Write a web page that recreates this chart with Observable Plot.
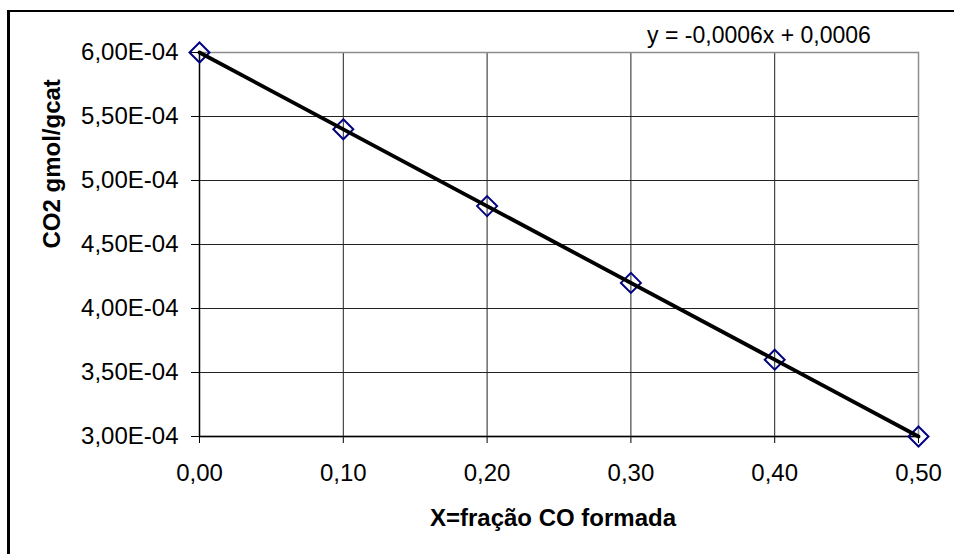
<!DOCTYPE html>
<html>
<head>
<meta charset="utf-8">
<script src="https://cdn.jsdelivr.net/npm/d3@7"></script>
<script src="https://cdn.jsdelivr.net/npm/@observablehq/plot@0.6"></script>
<style>
  html, body { margin: 0; padding: 0; background: #fff; }
  #wrap { position: relative; width: 954px; height: 554px; overflow: hidden; background: #fff; }
  #border { position: absolute; left: 7px; top: 10px; width: 980px; height: 600px;
            border-left: 3px solid #000; border-top: 2px solid #000; box-sizing: border-box; }
  #chart { position: absolute; left: 0; top: 0; }
  #chart svg { font-family: "Liberation Sans", Arial, sans-serif; }
</style>
</head>
<body>
<div id="wrap"><div id="border"></div><div id="chart"></div></div>
<script>
const xValues = [0, 0.1, 0.2, 0.3, 0.4, 0.5];
const yValues = [6.0e-4, 5.4e-4, 4.8e-4, 4.2e-4, 3.6e-4, 3.0e-4];
const xTicks = [0, 0.1, 0.2, 0.3, 0.4, 0.5];
const xTickLabels = ["0,00", "0,10", "0,20", "0,30", "0,40", "0,50"];
const yTicks = [3.0e-4, 3.5e-4, 4.0e-4, 4.5e-4, 5.0e-4, 5.5e-4, 6.0e-4];
const yTickLabels = ["3,00E-04", "3,50E-04", "4,00E-04", "4,50E-04", "5,00E-04", "5,50E-04", "6,00E-04"];
const xLabel = "X=fração CO formada";
const yLabel = "CO2 gmol/gcat";
const equation = "y = -0,0006x + 0,0006";

const data = xValues.map((x, i) => ({x, y: yValues[i]}));

const chart = Plot.plot({
  width: 954,
  height: 554,
  marginLeft: 199,
  marginRight: 36,
  marginTop: 52,
  marginBottom: 118,
  style: { fontFamily: "Liberation Sans, Arial, sans-serif", background: "transparent", color: "#000" },
  x: { domain: [0, 0.5] },
  y: { domain: [3.0e-4, 6.0e-4] },
  marks: [
    Plot.gridX(xTicks, { stroke: "#222", strokeOpacity: 1, strokeWidth: 1 }),
    Plot.gridY(yTicks, { stroke: "#222", strokeOpacity: 1, strokeWidth: 1 }),
    Plot.frame({ stroke: "#8c8c8c", strokeWidth: 1.5 }),
    Plot.ruleX([0], { stroke: "#000", strokeWidth: 1.3 }),
    Plot.ruleY([3.0e-4], { stroke: "#000", strokeWidth: 1.3 }),
    Plot.axisX({
      ticks: xTicks,
      tickFormat: d => xTickLabels[xTicks.indexOf(d)],
      tickSize: 7,
      tickPadding: 20,
      fontSize: 24,
      stroke: "#000",
      label: null
    }),
    Plot.axisY({
      ticks: yTicks,
      tickFormat: d => yTickLabels[yTicks.indexOf(d)],
      tickSize: 8,
      tickPadding: 13,
      fontSize: 24,
      stroke: "#000",
      label: null
    }),
    Plot.dot(data, {
      x: "x", y: "y", symbol: "diamond2", r: 9,
      stroke: "#000080", strokeWidth: 2, fill: "none"
    }),
    Plot.linearRegressionY(data, {
      x: "x", y: "y", ci: 0, stroke: "#000", strokeWidth: 3.8
    }),
    Plot.text([xLabel], {
      frameAnchor: "bottom", lineAnchor: "top", dy: 72, dx: -6,
      fontSize: 24, fontWeight: "bold", fill: "#000"
    }),
    Plot.text([yLabel], {
      frameAnchor: "left", lineAnchor: "bottom", rotate: -90, dx: -140, dy: 4,
      fontSize: 24, fontWeight: "bold", fill: "#000"
    }),
    Plot.text([equation], {
      frameAnchor: "top", lineAnchor: "bottom", dx: 200, dy: -10,
      fontSize: 23, fill: "#000", style: "letter-spacing:1px"
    })
  ]
});
document.getElementById("chart").appendChild(chart);
</script>
</body>
</html>
